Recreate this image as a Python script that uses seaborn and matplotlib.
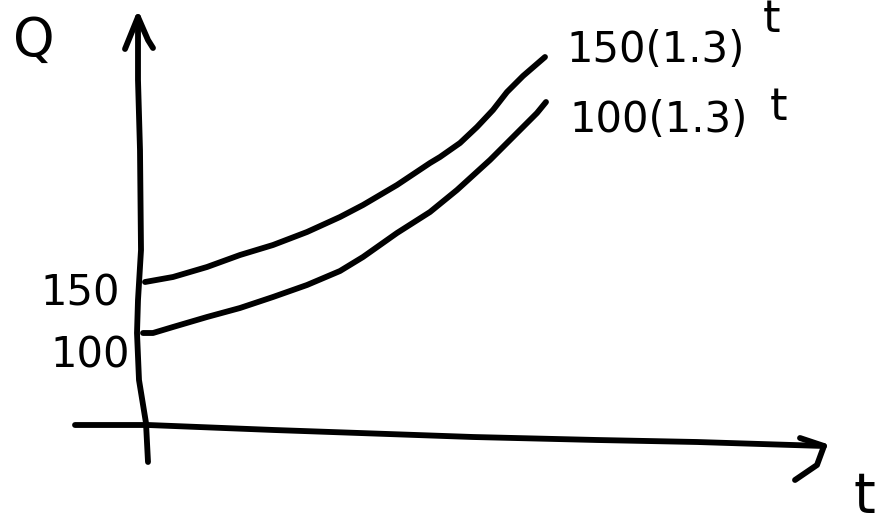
import matplotlib
matplotlib.use("Agg")
from matplotlib import pyplot as plt
import numpy as np
import pandas
import seaborn as sns

# values (t along the bottom, Q up the side)
t_top = [0.02, 0.30, 0.64, 0.97, 1.30, 1.64, 1.97, 2.20, 2.54, 2.87, 2.97,
         3.17, 3.34, 3.50, 3.64, 3.80, 4.02]
q_top = [151, 156, 166, 178, 188, 201, 216, 228, 248, 270, 276,
         290, 306, 323, 341, 357, 376]

t_bottom = [0.00, 0.10, 0.30, 0.64, 0.97, 1.30, 1.64, 1.97, 2.20, 2.54, 2.87,
            3.14, 3.47, 3.74, 3.94, 4.03]
q_bottom = [100, 100, 106, 116, 125, 136, 148, 162, 176, 200, 221,
            243, 273, 300, 320, 331]

# hand-drawn axes
t_yaxis = [-0.05, -0.05, -0.03, -0.02, -0.05, -0.06, -0.04, 0.03, 0.05]
q_yaxis = [416, 353, 283, 183, 133, 100, 53, 10, -29]
t_yhead = [-0.18, -0.05, 0.05, 0.10]
q_yhead = [384, 416, 393, 385]

t_xaxis = [-0.68, 0.05, 1.31, 3.30, 4.54, 5.54, 6.81]
q_xaxis = [8, 8, 3, -4, -7, -9, -13]
t_xhead = [6.57, 6.81, 6.74, 6.52]
q_xhead = [-5, -13, -32, -47]

tick_values = [150, 100]
tick_labels = ["150", "100"]
curve_labels = ["150(1.3)", "100(1.3)"]

sns.set_style("white")
plt.rcParams['font.family'] = ['DejaVu Sans']
plt.rcParams['text.color'] = 'black'

fig = plt.figure(figsize=(8.92, 5.27), dpi=100)
ax = fig.add_axes([0, 0, 1, 1])

lw = 4.2
kw = dict(color="black", linewidth=lw, sort=False, estimator=None, ax=ax,
          solid_capstyle="round", solid_joinstyle="round")

for tt, qq in [(t_top, q_top), (t_bottom, q_bottom), (t_yaxis, q_yaxis),
               (t_yhead, q_yhead), (t_xaxis, q_xaxis), (t_xhead, q_xhead)]:
    df = pandas.DataFrame({"t": tt, "Q": qq})
    sns.lineplot(data=df, x="t", y="Q", **kw)

# labels
ax.text(-1.09, 392, "Q", fontsize=38, ha="center", va="center", color="black")
ax.text(-0.63, tick_values[0] - 10, tick_labels[0], fontsize=30, ha="center", va="center", color="black")
ax.text(-0.53, tick_values[1] - 22, tick_labels[1], fontsize=30, ha="center", va="center", color="black")
ax.text(5.13, 383, curve_labels[0], fontsize=30, ha="center", va="center", color="black")
ax.text(6.29, 413, "t", fontsize=32, ha="center", va="center", color="black")
ax.text(5.16, 313, curve_labels[1], fontsize=30, ha="center", va="center", color="black")
ax.text(6.36, 325, "t", fontsize=32, ha="center", va="center", color="black")
ax.text(7.21, -64, "t", fontsize=40, ha="center", va="center", color="black")

ax.set_xlim(-1.43, 7.49)
ax.set_ylim(-94, 433)
ax.axis("off")

fig.savefig("out.png", dpi=100, facecolor="white")
